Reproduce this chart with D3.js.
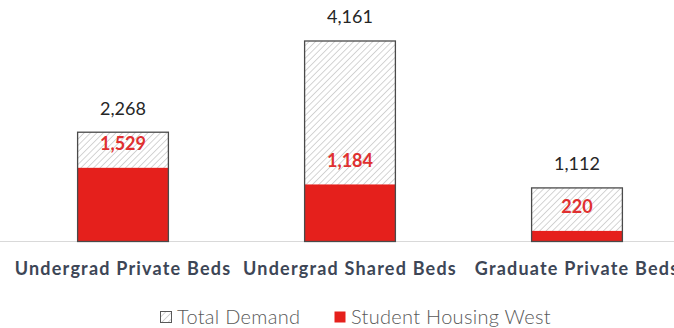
<!DOCTYPE html>
<html>
<head>
<meta charset="utf-8">
<script src="https://cdn.jsdelivr.net/npm/d3@7"></script>
<style>
  html, body { margin: 0; padding: 0; background: #ffffff; }
  svg { display: block; }
</style>
</head>
<body>
<svg id="chart" width="674" height="328"></svg>
<script>
// Bed demand by type vs. capacity of Student Housing West
const categories = ["Undergrad Private Beds", "Undergrad Shared Beds", "Graduate Private Beds"];
const totalDemand = [2268, 4161, 1112];
const housingWest = [1529, 1184, 220];
const seriesNames = ["Total Demand", "Student Housing West"];

const width = 674, height = 328;
const baseline = 241.5;
const svg = d3.select("#chart");

const x = d3.scaleBand().domain(categories).range([9.5, 690.5]).paddingInner(0.6).paddingOuter(0.3);
const y = d3.scaleLinear().domain([0, 4161]).range([baseline, 41]);

const defs = svg.append("defs");
const pat = defs.append("pattern")
  .attr("id", "hatch")
  .attr("patternUnits", "userSpaceOnUse")
  .attr("width", 4.5).attr("height", 4.5)
  .attr("patternTransform", "rotate(45)");
pat.append("rect").attr("width", 4.5).attr("height", 4.5).attr("fill", "#ffffff");
pat.append("line").attr("x1", 0).attr("y1", 0).attr("x2", 0).attr("y2", 4.5)
  .attr("stroke", "#b8b8b8").attr("stroke-width", 1.2);

// baseline
svg.append("line")
  .attr("x1", 0).attr("x2", width)
  .attr("y1", baseline).attr("y2", baseline)
  .attr("stroke", "#d9d9d9").attr("stroke-width", 1);

const data = categories.map((c, i) => ({ c, total: totalDemand[i], west: housingWest[i] }));

const g = svg.append("g");
g.selectAll("rect.total").data(data).join("rect")
  .attr("class", "total")
  .attr("x", d => x(d.c)).attr("width", x.bandwidth())
  .attr("y", d => y(d.total)).attr("height", d => y(0) - y(d.total))
  .attr("fill", "url(#hatch)");

g.selectAll("rect.west").data(data).join("rect")
  .attr("class", "west")
  .attr("x", d => x(d.c)).attr("width", x.bandwidth())
  .attr("y", d => y(d.west)).attr("height", d => y(0) - y(d.west))
  .attr("fill", "#e5201c");

g.selectAll("rect.outline").data(data).join("rect")
  .attr("class", "outline")
  .attr("x", d => x(d.c)).attr("width", x.bandwidth())
  .attr("y", d => y(d.total)).attr("height", d => y(0) - y(d.total))
  .attr("fill", "none").attr("stroke", "#4a4a4a").attr("stroke-width", 1.3);

const fmt = d3.format(",");
const font = "Lato, 'Open Sans', sans-serif";

g.selectAll("text.totalLab").data(data).join("text")
  .attr("class", "totalLab")
  .attr("x", d => x(d.c) + x.bandwidth() / 2)
  .attr("y", d => y(d.total) - 24)
  .attr("dy", "0.35em")
  .attr("text-anchor", "middle")
  .attr("font-family", font).attr("font-size", 18)
  .attr("fill", "#262626")
  .text(d => fmt(d.total));

g.selectAll("text.westLab").data(data).join("text")
  .attr("class", "westLab")
  .attr("x", d => x(d.c) + x.bandwidth() / 2)
  .attr("y", d => y(d.west) - 24)
  .attr("dy", "0.35em")
  .attr("text-anchor", "middle")
  .attr("font-family", font).attr("font-size", 18).attr("font-weight", 700)
  .attr("fill", "#e03030")
  .text(d => fmt(d.west));

// category names under each bar
svg.selectAll("text.cat").data(categories).join("text")
  .attr("class", "cat")
  .attr("x", d => x(d) + x.bandwidth() / 2)
  .attr("y", 269)
  .attr("dy", "0.35em")
  .attr("text-anchor", "middle")
  .attr("font-family", font).attr("font-size", 18).attr("font-weight", 700)
  .attr("letter-spacing", 1.2)
  .attr("fill", "#3d4656")
  .text(d => d);

// legend
const legend = svg.append("g").attr("transform", "translate(160,317)");
const items = [
  { name: seriesNames[0], fill: "url(#hatch)", stroke: "#595959", x: 0 },
  { name: seriesNames[1], fill: "#e5201c", stroke: "none", x: 174 }
];
const li = legend.selectAll("g").data(items).join("g")
  .attr("transform", d => `translate(${d.x},0)`);
li.append("rect")
  .attr("x", 0.5).attr("y", -5.5).attr("width", 11).attr("height", 11)
  .attr("fill", d => d.fill).attr("stroke", d => d.stroke).attr("stroke-width", 1);
li.append("text")
  .attr("x", 17).attr("y", 0).attr("dy", "0.35em")
  .attr("font-family", font).attr("font-size", 20).attr("font-weight", 300)
  .attr("letter-spacing", 0.3)
  .attr("fill", "#595959")
  .text(d => d.name);
</script>
</body>
</html>
